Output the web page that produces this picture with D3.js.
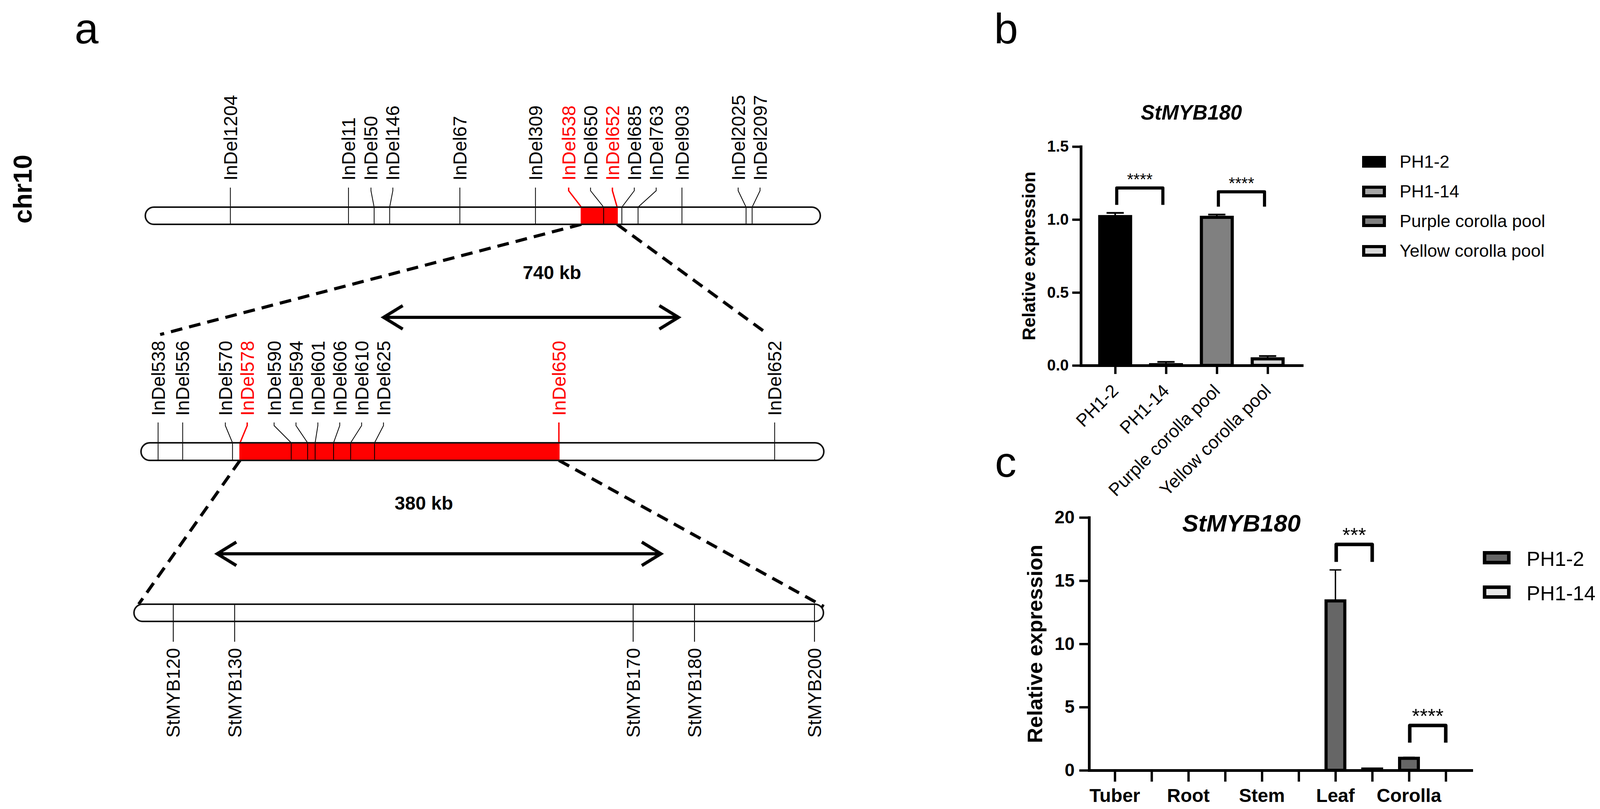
<!DOCTYPE html>
<html><head><meta charset="utf-8">
<script src="https://cdnjs.cloudflare.com/ajax/libs/d3/7.8.5/d3.min.js"></script>
<style>html,body{margin:0;padding:0;background:#fff;} svg{display:block;}</style>
</head><body>
<script>
// ================= DATA =================
// Panel a – marker positions (relative position along each drawn segment, %)
const topMarkers   = ["InDel1204","InDel11","InDel50","InDel146","InDel67","InDel309","InDel538","InDel650","InDel652","InDel685","InDel763","InDel903","InDel2025","InDel2097"];
const topPositions = [12.6,30.1,33.9,36.2,46.6,57.8,64.6,67.9,69.9,70.6,73.0,79.5,89.0,89.9];
const topHighlight = ["InDel538","InDel652"];

const midMarkers   = ["InDel538","InDel556","InDel570","InDel578","InDel590","InDel594","InDel601","InDel606","InDel610","InDel625","InDel650","InDel652"];
const midPositions = [2.5,6.1,13.4,14.5,22.0,24.4,25.5,28.2,30.7,34.2,61.2,92.8];
const midHighlight = ["InDel578","InDel650"];

const genes         = ["StMYB120","StMYB130","StMYB170","StMYB180","StMYB200"];
const genePositions = [5.7,14.6,72.4,81.3,98.7];

const intervalLabels = ["740 kb","380 kb"];
const chromName = "chr10";
const panelLabels = ["a","b","c"];

// Panel b
const bTitle = "StMYB180";
const bCategories = ["PH1-2","PH1-14","Purple corolla pool","Yellow corolla pool"];
const bValues = [1.02,0.005,1.015,0.045];
const bErrors = [0.025,0.019,0.019,0.019];
const bColors = ["#000000","#a6a6a6","#808080","#d9d9d9"];
const bTicks  = [0,0.5,1.0,1.5];
const bSigPairs  = [[0,1],[2,3]];
const bSigLabels = ["****","****"];
const bSigTop    = [1.216,1.19];
const bSigLeg    = [1.10,1.088];

// Panel c
const cTitle = "StMYB180";
const tissues = ["Tuber","Root","Stem","Leaf","Corolla"];
const cSeries = ["PH1-2","PH1-14"];
const cColors = ["#666666","#e8e8e8"];
const cPH12    = [0,0,0,13.4,0.95];
const cPH12err = [0,0,0,2.45,0.08];
const cPH114    = [0,0,0,0.1,0];
const cPH114err = [0,0,0,0,0];
const cTicks = [0,5,10,15,20];
const cSigTissue = [3,4];
const cSigLabels = ["***","****"];
const cSigTop    = [17.87,3.55];
const cSigLeg    = [16.48,2.19];

const yLabel = "Relative expression";

// ================= DRAW =================
const W = 4099, H = 2070;
const FONT = "'Liberation Sans', Arial, Helvetica, sans-serif";
const RED = "#ff0000";
const svg = d3.select("body").append("svg").attr("width",W).attr("height",H)
  .style("font-family",FONT);
svg.append("rect").attr("width",W).attr("height",H).attr("fill","#fff");

// ---- panel letters
svg.append("text").attr("x",191).attr("y",111).attr("font-size",110).text(panelLabels[0]);
svg.append("text").attr("x",2545).attr("y",111).attr("font-size",110).text(panelLabels[1]);
svg.append("text").attr("x",2547).attr("y",1220).attr("font-size",110).text(panelLabels[2]);

svg.append("text").attr("transform","translate(81,572) rotate(-90)")
  .attr("font-size",66).attr("font-weight","bold").text(chromName);

// label spreading
function spread(xs, gap){
  let cl = xs.map((x,i)=>({idx:[i],sum:x,n:1,start:x}));
  let changed = true;
  while(changed){
    changed=false;
    for(let i=0;i<cl.length-1;i++){
      const c=cl[i], d=cl[i+1];
      if(d.start < c.start+(c.n-1)*gap+gap){
        const m={idx:c.idx.concat(d.idx),sum:c.sum+d.sum,n:c.n+d.n};
        m.start=m.sum/m.n-(m.n-1)*gap/2;
        cl.splice(i,2,m); changed=true; break;
      }
    }
  }
  const out=[]; cl.forEach(c=>c.idx.forEach((k,j)=>out[k]=c.start+j*gap));
  return out;
}

const ga = svg.append("g");

function chromosome(scale, yTop, h, redFrom, redTo, markers, positions, highlight, opts){
  const [x0,x1] = scale.range();
  const g = ga.append("g");
  g.append("rect").attr("x",x0).attr("y",yTop).attr("width",x1-x0).attr("height",h)
    .attr("rx",h/2).attr("ry",h/2).attr("fill","#fff");
  if(redFrom!=null){
    g.append("rect").attr("x",scale(redFrom)).attr("y",yTop)
      .attr("width",scale(redTo)-scale(redFrom)).attr("height",h).attr("fill",RED);
  }
  const cx = positions.map(p=>scale(p));
  if(opts.above){
    const lx = spread(cx, 56);
    markers.forEach((m,i)=>{
      const col = highlight.includes(m)?RED:"#000";
      g.append("path").attr("d",`M${lx[i]},${opts.lineTop}V${opts.lineTop+8}L${cx[i]},${yTop}V${yTop+h}`)
        .attr("fill","none").attr("stroke",col).attr("stroke-width",highlight.includes(m)?3.5:2);
      g.append("text").attr("transform",`translate(${lx[i]},${opts.labelY}) rotate(-90)`)
        .attr("dy","0.35em").attr("font-size",48).attr("fill",col).text(m);
    });
  } else {
    markers.forEach((m,i)=>{
      g.append("line").attr("x1",cx[i]).attr("x2",cx[i]).attr("y1",yTop).attr("y2",opts.lineBottom)
        .attr("stroke","#000").attr("stroke-width",2.2);
      g.append("text").attr("transform",`translate(${cx[i]},${opts.labelY}) rotate(-90)`)
        .attr("dy","0.35em").attr("text-anchor","end").attr("font-size",48).text(m);
    });
  }
  g.append("rect").attr("x",x0).attr("y",yTop).attr("width",x1-x0).attr("height",h)
    .attr("rx",h/2).attr("ry",h/2).attr("fill","none").attr("stroke","#111").attr("stroke-width",4);
}

const sTop = d3.scaleLinear([0,100],[372,2100]);
const sMid = d3.scaleLinear([0,100],[361,2109]);
const sBot = d3.scaleLinear([0,100],[343,2108]);
const tY=530, tH=44, mY=1133, mH=45, bY=1546, bH=44;

const p538 = topPositions[topMarkers.indexOf("InDel538")];
const p652 = topPositions[topMarkers.indexOf("InDel652")];
const p578 = midPositions[midMarkers.indexOf("InDel578")];
const p650 = midPositions[midMarkers.indexOf("InDel650")];

// dashed zoom lines
const dash = (x1,y1,x2,y2)=>ga.append("line").attr("x1",x1).attr("y1",y1).attr("x2",x2).attr("y2",y2)
  .attr("stroke","#000").attr("stroke-width",8).attr("stroke-dasharray","30,18");
dash(sTop(p538), tY+tH, 410, 856);
dash(sTop(p652), tY+tH, 1956, 848);
dash(sMid(p578), mY+mH, 355, bY);
dash(sMid(p650), mY+mH, 2109, bY+6);

chromosome(sTop,tY,tH,p538,p652,topMarkers,topPositions,topHighlight,{above:true,lineTop:480,labelY:462});
chromosome(sMid,mY,mH,p578,p650,midMarkers,midPositions,midHighlight,{above:true,lineTop:1081,labelY:1064});
chromosome(sBot,bY,bH,null,null,genes,genePositions,[],{above:false,lineBottom:1642,labelY:1658});

// double arrows
function dblArrow(xa,xb,y){
  const g = ga.append("g").attr("stroke","#000").attr("stroke-width",8).attr("fill","none");
  g.append("line").attr("x1",xa+3).attr("x2",xb-3).attr("y1",y).attr("y2",y);
  g.append("path").attr("d",`M${xa+49},${y-30}L${xa},${y}L${xa+49},${y+30}`);
  g.append("path").attr("d",`M${xb-49},${y-30}L${xb},${y}L${xb-49},${y+30}`);
}
dblArrow(982,1737,812);
dblArrow(556,1692,1417);
ga.append("text").attr("x",1413).attr("y",714).attr("text-anchor","middle").attr("font-size",48)
  .attr("font-weight","bold").text(intervalLabels[0]);
ga.append("text").attr("x",1085).attr("y",1304).attr("text-anchor","middle").attr("font-size",48)
  .attr("font-weight","bold").text(intervalLabels[1]);

// ---------- Panel b ----------
const gb = svg.append("g");
const xb = d3.scalePoint(bCategories,[2767,3333]).padding(0.675);
const yb = d3.scaleLinear([0,1.5],[935,375]);

bCategories.forEach((c,i)=>{
  const x=xb(c);
  gb.append("line").attr("x1",x).attr("x2",x).attr("y1",yb(bValues[i])).attr("y2",yb(bValues[i]+bErrors[i]))
    .attr("stroke","#000").attr("stroke-width",4);
  gb.append("line").attr("x1",x-22).attr("x2",x+22).attr("y1",yb(bValues[i]+bErrors[i])).attr("y2",yb(bValues[i]+bErrors[i]))
    .attr("stroke","#000").attr("stroke-width",4.5);
});
gb.selectAll("rect.bar").data(bCategories).join("rect").attr("class","bar")
  .attr("x",d=>xb(d)-39.5).attr("width",79)
  .attr("y",(d,i)=>yb(bValues[i])).attr("height",(d,i)=>yb(0)-yb(bValues[i]))
  .attr("fill",(d,i)=>bColors[i]).attr("stroke","#000").attr("stroke-width",8);

const axB = gb.append("g").attr("transform","translate(2767,0)")
  .call(d3.axisLeft(yb).tickValues(bTicks).tickFormat(d3.format(".1f")).tickSize(22).tickSizeOuter(0).tickPadding(9));
const axBx = gb.append("g").attr("transform","translate(0,935)")
  .call(d3.axisBottom(xb).tickSize(22).tickSizeOuter(0).tickFormat(""));
[axB,axBx].forEach(a=>{
  a.select(".domain").attr("stroke-width",7).attr("stroke-linecap","square");
  a.selectAll(".tick line").attr("stroke-width",6);
});
axB.selectAll(".tick text").attr("font-size",40).attr("font-weight","bold").attr("font-family",FONT).attr("fill","#000");

bCategories.forEach((c,i)=>{
  gb.append("text").attr("transform",`translate(${xb(c)+11},1003) rotate(-45)`)
    .attr("text-anchor","end").attr("font-size",46).text(c);
});
bSigPairs.forEach((p,i)=>{
  const xl=xb(bCategories[p[0]])+4, xr=xb(bCategories[p[1]])-8;
  gb.append("path").attr("d",`M${xl},${yb(bSigLeg[i])}V${yb(bSigTop[i])}H${xr}V${yb(bSigLeg[i])}`)
    .attr("fill","none").attr("stroke","#000").attr("stroke-width",8).attr("stroke-linejoin","round");
  gb.append("text").attr("x",(xl+xr)/2).attr("y",yb(bSigTop[i])-8).attr("text-anchor","middle")
    .attr("font-size",42).text(bSigLabels[i]);
});
gb.append("text").attr("x",3050).attr("y",306).attr("text-anchor","middle").attr("font-size",53)
  .attr("font-weight","bold").attr("font-style","italic").text(bTitle);
gb.append("text").attr("transform",`translate(2650,${(yb(0)+yb(1.5))/2}) rotate(-90)`)
  .attr("text-anchor","middle").attr("font-size",46).attr("font-weight","bold").text(yLabel);
bCategories.forEach((c,i)=>{
  const top=399+i*76;
  gb.append("rect").attr("x",3491).attr("y",top+4).attr("width",53).attr("height",22)
    .attr("fill",bColors[i]).attr("stroke","#000").attr("stroke-width",8);
  gb.append("text").attr("x",3583).attr("y",top+30).attr("font-size",45).text(c);
});

// ---------- Panel c ----------
const gc = svg.append("g");
const slots = tissues.flatMap(t=>cSeries.map(s=>t+"|"+s));
const xc = d3.scalePoint(slots,[2788,3767]).padding(0.7);
const yc = d3.scaleLinear([0,20],[1971,1324]);
const cVals = [cPH12,cPH114], cErrs=[cPH12err,cPH114err];

tissues.forEach((t,ti)=>{
  cSeries.forEach((s,si)=>{
    const x=xc(t+"|"+s), v=cVals[si][ti], e=cErrs[si][ti];
    if(e>0){
      gc.append("line").attr("x1",x).attr("x2",x).attr("y1",yc(v)).attr("y2",yc(v+e)).attr("stroke","#000").attr("stroke-width",3.5);
      gc.append("line").attr("x1",x-15).attr("x2",x+15).attr("y1",yc(v+e)).attr("y2",yc(v+e)).attr("stroke","#000").attr("stroke-width",3.5);
    }
  });
});
gc.selectAll("rect.bar").data(slots).join("rect").attr("class","bar")
  .attr("x",d=>xc(d)-24).attr("width",48)
  .attr("y",(d,i)=>yc(cVals[i%2][Math.floor(i/2)]))
  .attr("height",(d,i)=>yc(0)-yc(cVals[i%2][Math.floor(i/2)]))
  .attr("fill",(d,i)=>cColors[i%2]).attr("stroke","#000").attr("stroke-width",8)
  .attr("display",(d,i)=>cVals[i%2][Math.floor(i/2)]>0?null:"none");

const axC = gc.append("g").attr("transform","translate(2788,0)")
  .call(d3.axisLeft(yc).tickValues(cTicks).tickSize(25).tickSizeOuter(0).tickPadding(12));
const axCx = gc.append("g").attr("transform","translate(0,1971)")
  .call(d3.axisBottom(xc).tickSize(29).tickSizeOuter(0).tickFormat(""));
[axC,axCx].forEach(a=>{
  a.select(".domain").attr("stroke-width",7).attr("stroke-linecap","square");
  a.selectAll(".tick line").attr("stroke-width",6);
});
axC.selectAll(".tick text").attr("font-size",46).attr("font-weight","bold").attr("font-family",FONT).attr("fill","#000");

tissues.forEach(t=>{
  gc.append("text").attr("x",xc(t+"|"+cSeries[0])).attr("y",2052).attr("text-anchor","middle")
    .attr("font-size",48).attr("font-weight","bold").text(t);
});
cSigTissue.forEach((ti,i)=>{
  const xl=xc(tissues[ti]+"|"+cSeries[0])+2, xr=xc(tissues[ti]+"|"+cSeries[1]);
  gc.append("path").attr("d",`M${xl},${yc(cSigLeg[i])}V${yc(cSigTop[i])}H${xr}V${yc(cSigLeg[i])}`)
    .attr("fill","none").attr("stroke","#000").attr("stroke-width",9).attr("stroke-linejoin","round");
  gc.append("text").attr("x",(xl+xr)/2).attr("y",yc(cSigTop[i])-6).attr("text-anchor","middle")
    .attr("font-size",52).text(cSigLabels[i]);
});
gc.append("text").attr("x",3178).attr("y",1360).attr("text-anchor","middle").attr("font-size",62)
  .attr("font-weight","bold").attr("font-style","italic").text(cTitle);
gc.append("text").attr("transform",`translate(2668,${(yc(0)+yc(20))/2}) rotate(-90)`)
  .attr("text-anchor","middle").attr("font-size",54).attr("font-weight","bold").text(yLabel);
cSeries.forEach((s,i)=>{
  const top=1410+i*88;
  gc.append("rect").attr("x",3800.5).attr("y",top+4.5).attr("width",62).attr("height",25)
    .attr("fill",cColors[i]).attr("stroke","#000").attr("stroke-width",9);
  gc.append("text").attr("x",3908).attr("y",top+38).attr("font-size",52).text(s);
});
</script>
</body></html>
